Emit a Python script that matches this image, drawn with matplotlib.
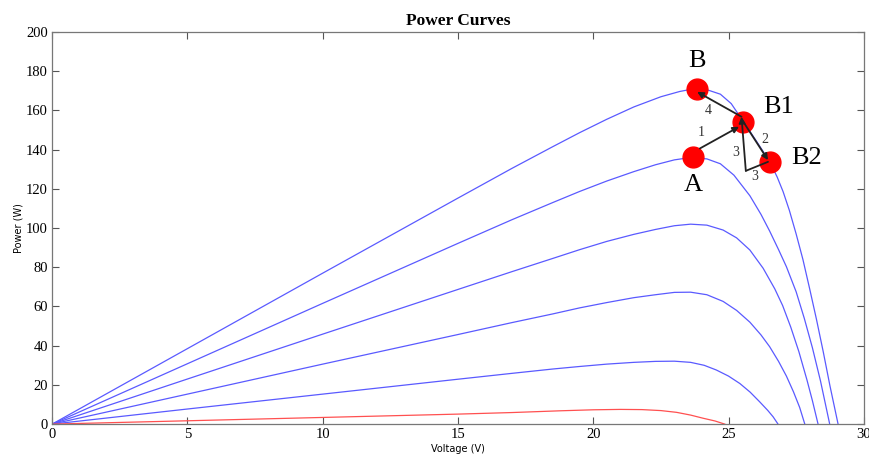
import numpy as np
import matplotlib
matplotlib.use("Agg")
import matplotlib.pyplot as plt

# P-V кривые, от наибольшей освещённости к наименьшей
v1 = [0, 5, 10, 15, 17, 18.5, 19.5, 20.5, 21.5, 22.5, 23.2, 23.7, 24.2, 24.7, 25.1, 25.54, 26.0, 26.52,
      26.8, 27.02, 27.25, 27.5, 27.75, 28.0, 28.25, 28.5, 28.75, 29.05]
p1 = [0, 38.5, 77, 115.3, 130.5, 141.5, 148.7, 155.5, 161.8, 167, 169.7, 171, 170.6, 168.3, 163.5, 154.5, 145, 134,
      126, 118.5, 109, 97, 84, 69, 53.5, 37, 19.5, 0]
v2 = [0, 5, 10, 15, 17, 18.5, 19.5, 20.5, 21.5, 22.3, 23, 23.6, 24.2, 24.7, 25.2, 25.79, 26.2, 26.52,
      26.85, 27.14, 27.5, 27.8, 28.1, 28.4, 28.74]
p2 = [0, 30.8, 61.6, 92.2, 104.3, 113, 118.7, 124, 128.8, 132.3, 134.8, 136, 135.3, 132.8, 127, 116.5, 107, 98.5,
      89, 80.3, 67.5, 54, 39, 22, 0]
v3 = [0, 5, 10, 15, 17, 18.5, 19.5, 20.5, 21.5, 22.3, 23, 23.6, 24.2, 24.8, 25.3, 25.79, 26.28, 26.71,
      27.0, 27.3, 27.6, 27.9, 28.1, 28.31]
p3 = [0, 23, 45.9, 68.7, 77.8, 84.5, 89, 93.2, 96.8, 99.3, 101.2, 102, 101.5, 99, 95, 88.8, 79.5, 69,
      60.5, 49.5, 37, 22.5, 12, 0]
v4 = [0, 5, 10, 15, 17, 18.5, 19.5, 20.5, 21.5, 22.3, 23, 23.6, 24.2, 24.8, 25.3, 25.79, 26.2, 26.52,
      26.85, 27.14, 27.4, 27.63, 27.82]
p4 = [0, 15.3, 30.6, 45.7, 51.8, 56.2, 59.3, 62, 64.5, 66, 67.2, 67.3, 66, 62.6, 58, 52, 45.5, 39.5,
      32, 24.5, 16.5, 8.5, 0]
v5 = [0, 5, 10, 15, 17, 18.5, 19.5, 20.5, 21.5, 22.3, 23, 23.6, 24.1, 24.55, 25, 25.42, 25.8, 26.15,
      26.45, 26.65, 26.83]
p5 = [0, 7.7, 15.3, 22.9, 25.9, 28.1, 29.4, 30.6, 31.5, 32, 32.1, 31.5, 30, 27.6, 24.5, 20.7, 16.3, 11.4,
      7, 3.7, 0]
v_red = [0, 5, 10, 15, 17, 18.8, 20, 21, 21.8, 22.5, 23.08, 23.6, 24.06, 24.5, 24.86]
p_red = [0, 1.7, 3.4, 5.1, 5.9, 6.8, 7.3, 7.5, 7.4, 6.9, 6.0, 4.6, 3.0, 1.6, 0]

# рабочие точки
pt_names = ["A", "B", "B1", "B2"]
pt_v = [23.69, 23.84, 25.54, 26.52]
pt_p = [136.1, 170.8, 154.2, 133.8]
lbl_v = [23.68, 23.83, 26.85, 27.9]
lbl_p = [122, 185, 162, 136]

# стрелки шагов (start -> end), номер шага
arr_v0 = [23.94, 25.51, 26.46, 25.64, 25.48]
arr_p0 = [140.6, 155.0, 133.8, 129.2, 156.8]
arr_v1 = [25.39, 26.46, 25.64, 25.48, 23.84]
arr_p1 = [151.7, 134.7, 129.2, 156.8, 169.5]
arr_head = [True, True, False, True, True]
step_txt = ["1", "2", "3", "3", "4"]
step_v = [24.0, 26.34, 25.97, 25.27, 24.25]
step_p = [148.6, 145.4, 126.5, 138.4, 160.2]

fig = plt.figure(figsize=(8.69, 4.58), dpi=100)
ax = fig.add_axes([0.06, 0.074, 0.934, 0.856])

blue = "#5a5aff"
for v, p in [(v1, p1), (v2, p2), (v3, p3), (v4, p4), (v5, p5)]:
    ax.plot(v, p, color=blue, lw=0.9)
ax.plot(v_red, p_red, color="#ff5050", lw=0.9)

ax.plot(pt_v, pt_p, "o", color="red", ms=15, zorder=5)
for n, x, y in zip(pt_names, lbl_v, lbl_p):
    ax.text(x, y, n, fontsize=19, family="Liberation Serif", ha="center", va="center", zorder=7)

for x0, y0, x1, y1, h in zip(arr_v0, arr_p0, arr_v1, arr_p1, arr_head):
    ax.annotate("", xy=(x1, y1), xytext=(x0, y0),
                arrowprops=dict(arrowstyle="-|>" if h else "-", color="#222222", lw=1.3,
                                mutation_scale=9, shrinkA=0, shrinkB=0), zorder=6)
for t, x, y in zip(step_txt, step_v, step_p):
    ax.text(x, y, t, fontsize=10, family="Liberation Serif", color="#333333",
            ha="center", va="center", zorder=7)

ax.set_xlim(0, 30)
ax.set_ylim(0, 200)
ax.set_xticks(np.arange(0, 31, 5))
ax.set_yticks(np.arange(0, 201, 20))
ax.tick_params(direction="in", top=True, right=True, length=5, width=0.8, colors="#555555",
               labelcolor="black", labelsize=10.5, pad=3)
for lab in ax.get_xticklabels() + ax.get_yticklabels():
    lab.set_family("Liberation Serif")
for s in ax.spines.values():
    s.set_color("#777777")
    s.set_linewidth(0.9)

ax.set_title("Power Curves", fontsize=12.5, fontweight="bold", family="Liberation Serif", pad=5)
ax.set_xlabel("Voltage (V)", fontsize=7, labelpad=2)
ax.set_ylabel("Power (W)", fontsize=7, labelpad=2)

fig.savefig("out.png", dpi=100)
